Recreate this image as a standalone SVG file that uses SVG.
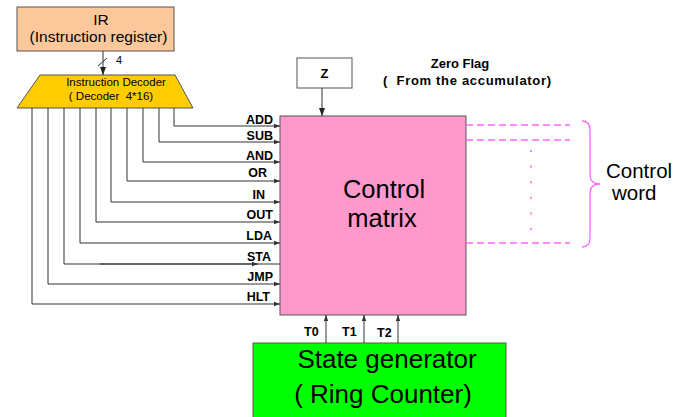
<svg xmlns="http://www.w3.org/2000/svg" width="690" height="417" viewBox="0 0 690 417">
  <style>
    .box { stroke: #555; stroke-width: 1; }
    .wire { fill: none; stroke: #333; stroke-width: 1; }
    .dash { fill: none; stroke: #ff66ff; stroke-width: 1.6; stroke-dasharray: 7 4; }
    .lbl { font-family: "Liberation Sans", Arial, sans-serif; font-weight: bold; font-size: 12.5px; fill: #000; }
    .txt { font-family: "Liberation Sans", Arial, sans-serif; fill: #000; }
  </style>
  <defs>
    <marker id="arr" viewBox="0 0 6 6" refX="6" refY="3" markerWidth="6" markerHeight="6" markerUnits="userSpaceOnUse" orient="auto">
      <path d="M0,0.8 L6,3 L0,5.2 Z" fill="#333"/>
    </marker>
    <marker id="arrBig" viewBox="0 0 8 8" refX="8" refY="4" markerWidth="8" markerHeight="8" markerUnits="userSpaceOnUse" orient="auto">
      <path d="M0,1 L8,4 L0,7 Z" fill="#222"/>
    </marker>
  </defs>

  <!-- Instruction register -->
  <g id="ir">
    <rect class="box" x="17" y="7" width="157" height="44" fill="#fcc89b"/>
    <text class="txt" x="101" y="25" font-size="15.5" text-anchor="middle">IR</text>
    <text class="txt" x="98.5" y="42" font-size="15.5" text-anchor="middle">(Instruction register)</text>
  </g>

  <!-- Instruction decoder -->
  <g id="decoder">
    <polygon class="box" points="40,75 175,75 193,108 17,108" fill="#ffcc00"/>
    <text class="txt" x="116" y="86" font-size="11.5" text-anchor="middle">Instruction Decoder</text>
    <text class="txt" x="111" y="100" font-size="11.5" text-anchor="middle" xml:space="preserve">( Decoder  4*16)</text>
  </g>

  <!-- Zero flag -->
  <g id="zflag">
    <rect class="box" x="297" y="58" width="55" height="30" fill="#fff"/>
    <text class="txt" x="324.5" y="78" font-size="13" font-weight="bold" text-anchor="middle">Z</text>
    <text class="txt" x="460" y="68" font-size="13" font-weight="bold" text-anchor="middle">Zero Flag</text>
    <text class="txt" x="383" y="85" font-size="13" font-weight="bold" textLength="168" xml:space="preserve">(  From the accumulator)</text>
  </g>

  <!-- Control matrix -->
  <g id="control-matrix">
    <rect class="box" x="280" y="116" width="186" height="199" fill="#ff99cc"/>
    <text class="txt" x="384" y="198" font-size="25.5" text-anchor="middle">Control</text>
    <text class="txt" x="382" y="227" font-size="25.5" text-anchor="middle">matrix</text>
  </g>

  <!-- State generator -->
  <g id="state-generator">
    <rect class="box" x="253" y="343" width="253" height="80" fill="#00ff00"/>
    <text class="txt" x="387" y="368" font-size="26" text-anchor="middle">State generator</text>
    <text class="txt" x="383" y="403" font-size="26" text-anchor="middle">( Ring Counter)</text>
  </g>

  <!-- Control word -->
  <g id="control-word">
    <path d="M582,121 Q590,121 590,130 L590,175 Q590,184 600,184 Q590,184 590,193 L590,238 Q590,247 582,247" fill="none" stroke="#ff66ff" stroke-width="1.3"/>
    <text class="txt" x="606" y="178" font-size="20.5">Control</text>
    <text class="txt" x="612" y="200" font-size="20.5">word</text>
  </g>

  <!-- Connectors -->
  <g id="connectors">
    <!-- IR to decoder, 4-bit bus -->
    <line class="wire" x1="103" y1="51" x2="103" y2="75" marker-end="url(#arrBig)"/>
    <line class="wire" x1="98" y1="66" x2="107" y2="58"/>
    <text class="txt" x="116" y="64" font-size="11">4</text>

    <!-- Z to control matrix -->
    <line class="wire" x1="322" y1="88" x2="322" y2="116" marker-end="url(#arrBig)"/>

    <!-- Decoder outputs -->
    <path class="wire" d="M174,108 V126 H280" marker-end="url(#arr)"/>
    <path class="wire" d="M159,108 V142 H280" marker-end="url(#arr)"/>
    <path class="wire" d="M143,108 V162 H280" marker-end="url(#arr)"/>
    <path class="wire" d="M127,108 V181 H280" marker-end="url(#arr)"/>
    <path class="wire" d="M111,108 V202 H280" marker-end="url(#arr)"/>
    <path class="wire" d="M96,108 V222 H280" marker-end="url(#arr)"/>
    <path class="wire" d="M80,108 V243 H280" marker-end="url(#arr)"/>
    <path class="wire" d="M64,108 V264 H280"/>
    <line class="wire" x1="100" y1="264" x2="258" y2="264" stroke-width="1.4" marker-end="url(#arr)"/>
    <path class="wire" d="M48,108 V284 H280" marker-end="url(#arr)"/>
    <path class="wire" d="M32,108 V304 H280" marker-end="url(#arr)"/>

    <text class="lbl" x="273" y="124" text-anchor="end">ADD</text>
    <text class="lbl" x="273" y="140" text-anchor="end">SUB</text>
    <text class="lbl" x="273" y="160" text-anchor="end">AND</text>
    <text class="lbl" x="267" y="177" text-anchor="end">OR</text>
    <text class="lbl" x="265" y="199" text-anchor="end">IN</text>
    <text class="lbl" x="273" y="219" text-anchor="end">OUT</text>
    <text class="lbl" x="272" y="240" text-anchor="end">LDA</text>
    <text class="lbl" x="271" y="261" text-anchor="end">STA</text>
    <text class="lbl" x="273" y="281" text-anchor="end">JMP</text>
    <text class="lbl" x="270" y="301" text-anchor="end">HLT</text>

    <!-- Timing signals -->
    <line class="wire" x1="326" y1="343" x2="326" y2="315" marker-end="url(#arr)"/>
    <line class="wire" x1="364" y1="343" x2="364" y2="315" marker-end="url(#arr)"/>
    <line class="wire" x1="398" y1="343" x2="398" y2="315" marker-end="url(#arr)"/>
    <text class="lbl" x="304" y="336">T0</text>
    <text class="lbl" x="342" y="336">T1</text>
    <text class="lbl" x="377" y="337">T2</text>

    <!-- Control word outputs -->
    <line class="dash" x1="466" y1="125" x2="570" y2="125"/>
    <line class="dash" x1="466" y1="140" x2="570" y2="140"/>
    <line class="dash" x1="466" y1="243" x2="570" y2="243"/>
    <line x1="531" y1="150" x2="531" y2="230" stroke="#ff66ff" stroke-width="1.6" stroke-dasharray="2 13.6"/>
  </g>
</svg>
